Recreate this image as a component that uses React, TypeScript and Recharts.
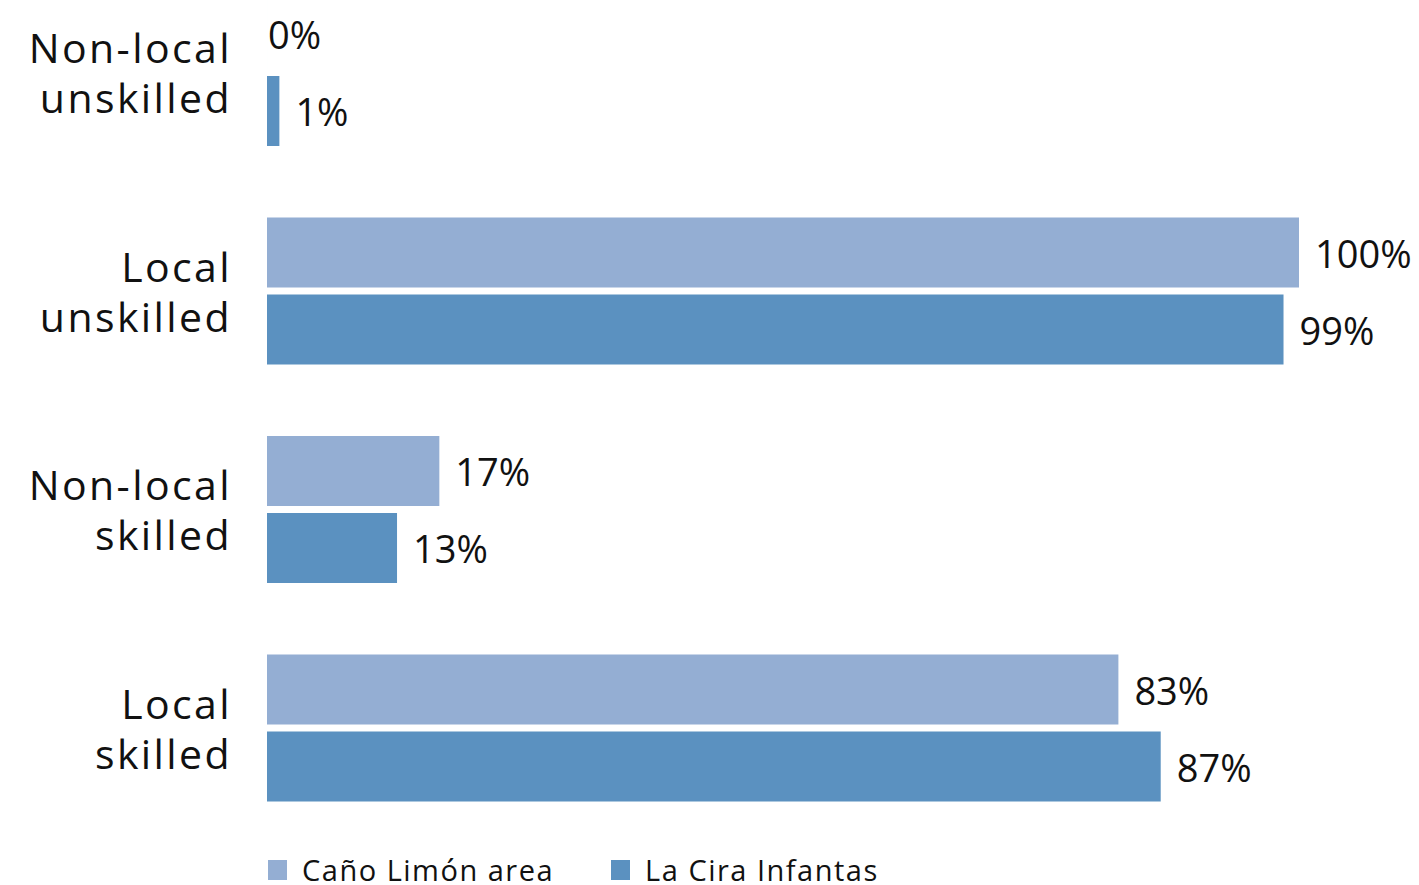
import { BarChart, Bar, XAxis, YAxis, LabelList } from "recharts";

const categories = ["Non-local unskilled", "Local unskilled", "Non-local skilled", "Local skilled"];
const canoLimon = [0, 100, 16.7, 82.5];
const laCira = [1.2, 98.5, 12.6, 86.6];
const seriesNames = ["Caño Limón area", "La Cira Infantas"];
const seriesColors = ["#94aed3", "#5b91c0"];

const data = categories.map((name, i) => ({
  name,
  cano: canoLimon[i],
  cira: laCira[i],
}));

const FONT = "'Open Sans', sans-serif";

function CategoryTick(props: any) {
  const { x, y, payload } = props;
  const words = String(payload.value).split(" ");
  const common = { textAnchor: "end" as const, fontFamily: FONT, fontSize: 41, letterSpacing: 2.4, fill: "#111", dominantBaseline: "central" as const };
  return (
    <g>
      <text x={x + 2} y={y - 25} {...common}>{words[0]}</text>
      <text x={x + 2} y={y + 25} {...common}>{words.slice(1).join(" ")}</text>
    </g>
  );
}

function ValueLabel(props: any) {
  const { x, y, width, height, value } = props;
  const w = Number(width) || 0;
  const h = Number(height) || 70;
  const v = Number(Array.isArray(value) ? value[1] : value) || 0;
  const gap = v === 0 ? 1 : 16;
  return (
    <text
      x={(Number(x) || 0) + w + gap}
      y={(Number(y) || 0) + h / 2}
      dominantBaseline="central"
      fontFamily={FONT}
      fontSize={38}
      fill="#111"
    >
      {`${Math.round(v)}%`}
    </text>
  );
}

export default function App() {
  return (
    <div style={{ position: "absolute", left: 0, top: 0, width: 1419, height: 885, overflow: "hidden", background: "#fff" }}>
      <BarChart
        width={1419}
        height={885}
        data={data}
        layout="vertical"
        margin={{ top: -37, right: 120, left: 0, bottom: 48 }}
        barGap={7}
        barSize={70}
      >
        <XAxis type="number" domain={[0, 100]} hide />
        <YAxis
          type="category"
          dataKey="name"
          width={267}
          axisLine={false}
          tickLine={false}
          tickSize={0}
          tickMargin={37}
          tick={<CategoryTick />}
        />
        <Bar dataKey="cano" fill={seriesColors[0]} isAnimationActive={false} minPointSize={0.01}>
          <LabelList dataKey="cano" content={<ValueLabel />} />
        </Bar>
        <Bar dataKey="cira" fill={seriesColors[1]} isAnimationActive={false}>
          <LabelList dataKey="cira" content={<ValueLabel />} />
        </Bar>
      </BarChart>
      <div style={{ position: "absolute", left: 268, top: 850, display: "flex", fontFamily: FONT, fontSize: 29, letterSpacing: 1.5, color: "#111" }}>
        {seriesNames.map((n, i) => (
          <div key={n} style={{ display: "flex", alignItems: "center", marginRight: 57 }}>
            <span style={{ width: 19, height: 20, background: seriesColors[i], marginRight: 15, display: "inline-block" }} />
            <span>{n}</span>
          </div>
        ))}
      </div>
    </div>
  );
}
